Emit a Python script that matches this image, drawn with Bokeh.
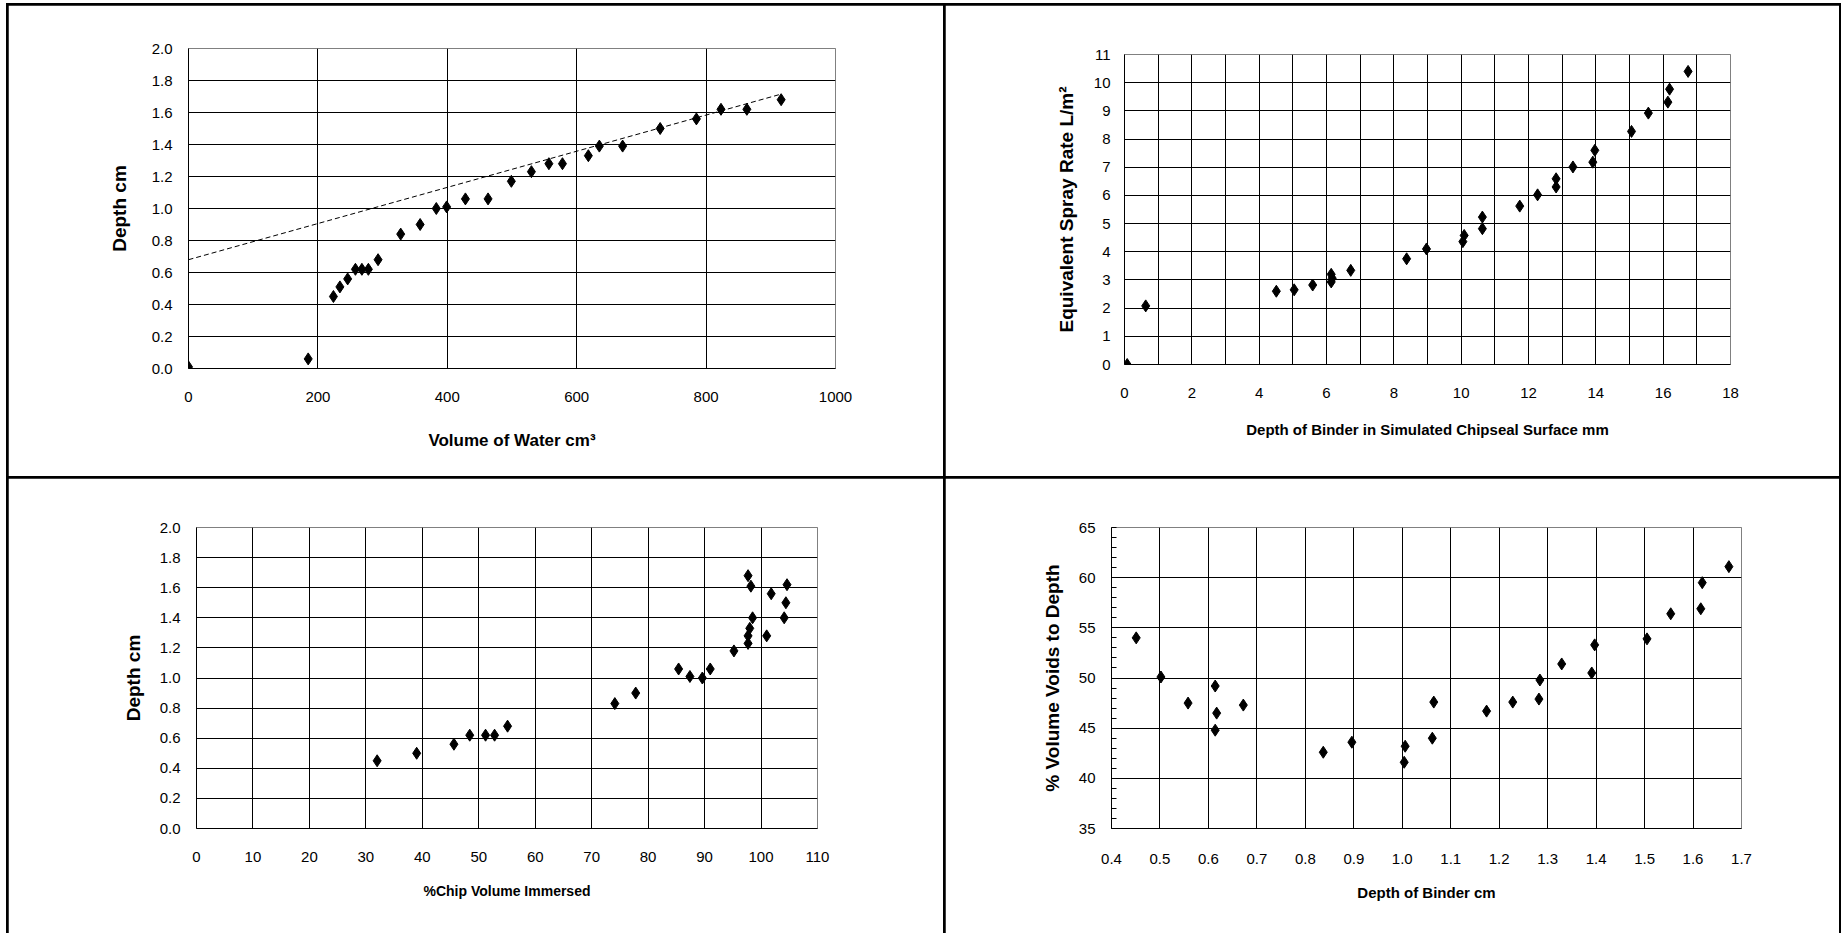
from bokeh.plotting import figure
from bokeh.models import Range1d, FixedTicker, NumeralTickFormatter, Row, Column, Spacer
from bokeh.embed import file_html
from bokeh.resources import INLINE

# ---------------- data ----------------
# Panel 1: depth vs volume of water
vol_water = [0, 185, 224, 234, 246, 258, 268, 278, 293, 328, 358, 383, 399, 428, 463,
             499, 530, 557, 578, 618, 635, 671, 729, 785, 823, 863, 916]
depth_vol = [0.01, 0.06, 0.45, 0.51, 0.56, 0.62, 0.62, 0.62, 0.68, 0.84, 0.90, 1.00, 1.01,
             1.06, 1.06, 1.17, 1.23, 1.28, 1.28, 1.33, 1.39, 1.39, 1.50, 1.56, 1.62, 1.62, 1.68]
trend_x = [0, 916]
trend_y = [0.68, 1.715]

# Panel 2: equivalent spray rate vs depth of binder (mm)
binder_mm = [0.08, 0.63, 4.51, 5.04, 5.59, 6.14, 6.14, 6.17, 6.72, 8.38, 8.97, 10.05, 10.09,
             10.63, 10.63, 11.74, 12.27, 12.82, 12.82, 13.32, 13.91, 13.97, 15.06, 15.56,
             16.14, 16.19, 16.74]
spray_rate = [0.0, 2.08, 2.60, 2.65, 2.82, 3.20, 2.93, 3.06, 3.34, 3.75, 4.10, 4.36, 4.58,
              4.82, 5.23, 5.62, 6.02, 6.30, 6.59, 7.01, 7.18, 7.60, 8.27, 8.92, 9.31, 9.77, 10.40]

# Panel 3: depth vs % chip volume immersed
chip_pct = [32.0, 39.0, 45.6, 48.4, 51.2, 52.8, 55.1, 74.1, 77.8, 85.4, 87.4, 89.6, 91.0,
            95.2, 97.7, 97.7, 98.0, 98.5, 101.0, 104.1, 104.4, 101.8, 104.6, 98.2, 97.7]
depth_chip = [0.45, 0.50, 0.56, 0.62, 0.62, 0.62, 0.68, 0.83, 0.90, 1.06, 1.01, 1.00, 1.06,
              1.18, 1.23, 1.28, 1.33, 1.40, 1.28, 1.40, 1.50, 1.56, 1.62, 1.61, 1.68]

# Panel 4: % volume voids vs depth of binder (cm)
binder_cm = [0.451, 0.502, 0.558, 0.614, 0.617, 0.614, 0.672, 0.837, 0.896, 1.004, 1.006,
             1.062, 1.065, 1.174, 1.228, 1.282, 1.284, 1.329, 1.391, 1.397, 1.505, 1.554,
             1.616, 1.619, 1.674]
voids_pct = [54.0, 50.1, 47.5, 49.2, 46.5, 44.8, 47.3, 42.6, 43.6, 41.6, 43.2, 44.0, 47.6,
             46.7, 47.6, 47.9, 49.8, 51.4, 50.5, 53.3, 53.9, 56.4, 56.9, 59.5, 61.1]

# tick values
p1_xticks = [0, 200, 400, 600, 800, 1000]
p1_yticks = [0.0, 0.2, 0.4, 0.6, 0.8, 1.0, 1.2, 1.4, 1.6, 1.8, 2.0]
p2_xticks = [0, 2, 4, 6, 8, 10, 12, 14, 16, 18]
p2_xgrid = [1, 2, 3, 4, 5, 6, 7, 8, 9, 10, 11, 12, 13, 14, 15, 16, 17]
p2_yticks = [0, 1, 2, 3, 4, 5, 6, 7, 8, 9, 10, 11]
p3_xticks = [0, 10, 20, 30, 40, 50, 60, 70, 80, 90, 100, 110]
p3_yticks = p1_yticks
p4_xticks = [0.4, 0.5, 0.6, 0.7, 0.8, 0.9, 1.0, 1.1, 1.2, 1.3, 1.4, 1.5, 1.6, 1.7]
p4_yticks = [35, 40, 45, 50, 55, 60, 65]
p4_yminor = list(range(35, 66))

FONT = "Liberation Sans"


def make_fig(w, h, left, right, top, bottom, xr, yr):
    p = figure(width=w, height=h, x_range=Range1d(*xr), y_range=Range1d(*yr),
               output_backend="svg", toolbar_location=None,
               min_border_left=left, min_border_right=right,
               min_border_top=top, min_border_bottom=bottom)
    p.background_fill_color = "white"
    p.border_fill_color = "white"
    p.outline_line_color = "#808080"
    p.outline_line_width = 1
    for ax in (p.xaxis[0], p.yaxis[0]):
        ax.axis_line_color = "black"
        ax.axis_line_width = 1
        ax.major_tick_in = 0
        ax.major_tick_out = 0
        ax.minor_tick_in = 0
        ax.minor_tick_out = 0
        ax.major_label_text_font = FONT
        ax.major_label_text_font_size = "15px"
        ax.major_label_text_color = "black"
        ax.axis_label_text_font = FONT
        ax.axis_label_text_font_style = "bold"
        ax.axis_label_text_color = "black"
    p.xaxis[0].major_label_standoff = 23
    p.yaxis[0].axis_label_text_font_size = "19px"
    p.xgrid[0].grid_line_color = "black"
    p.ygrid[0].grid_line_color = "black"
    p.xgrid[0].grid_line_width = 1
    p.ygrid[0].grid_line_width = 1
    return p


# ---- Panel 1 ----
p1 = make_fig(935, 471, 180, 108, 43, 108, (0, 1000), (0, 2.0))
p1.xaxis[0].ticker = FixedTicker(ticks=p1_xticks)
p1.yaxis[0].ticker = FixedTicker(ticks=p1_yticks)
p1.yaxis[0].formatter = NumeralTickFormatter(format="0.0")
p1.xgrid[0].ticker = FixedTicker(ticks=p1_xticks[1:-1])
p1.ygrid[0].ticker = FixedTicker(ticks=p1_yticks[1:-1])
p1.xaxis[0].axis_label = "Volume of Water cm\u00b3"
p1.xaxis[0].axis_label_text_font_size = "17px"
p1.xaxis[0].axis_label_standoff = 26
p1.yaxis[0].axis_label = "Depth cm"
p1.yaxis[0].major_label_standoff = 16
p1.yaxis[0].axis_label_standoff = 19
p1.line(trend_x, trend_y, line_color="black", line_width=1, line_dash="5 3")
p1.scatter(vol_water, depth_vol, marker="diamond", size=12, color="black")

# ---- Panel 2 ----
p2 = make_fig(894, 471, 179, 109, 49, 112, (0, 18), (0, 11))
p2.xaxis[0].ticker = FixedTicker(ticks=p2_xticks)
p2.yaxis[0].ticker = FixedTicker(ticks=p2_yticks)
p2.xgrid[0].ticker = FixedTicker(ticks=p2_xgrid)
p2.ygrid[0].ticker = FixedTicker(ticks=p2_yticks[1:-1])
p2.xaxis[0].axis_label = "Depth of Binder in Simulated Chipseal Surface mm"
p2.xaxis[0].axis_label_text_font_size = "15px"
p2.xaxis[0].axis_label_standoff = 20
p2.yaxis[0].axis_label = "Equivalent Spray Rate L/m\u00b2"
p2.yaxis[0].major_label_standoff = 14
p2.yaxis[0].axis_label_standoff = 14
p2.scatter(binder_mm, spray_rate, marker="diamond", size=12, color="black")

# ---- Panel 3 ----
p3 = make_fig(935, 455, 188, 126, 49, 105, (0, 110), (0, 2.0))
p3.xaxis[0].ticker = FixedTicker(ticks=p3_xticks)
p3.yaxis[0].ticker = FixedTicker(ticks=p3_yticks)
p3.yaxis[0].formatter = NumeralTickFormatter(format="0.0")
p3.xgrid[0].ticker = FixedTicker(ticks=p3_xticks[1:-1])
p3.ygrid[0].ticker = FixedTicker(ticks=p3_yticks[1:-1])
p3.xaxis[0].axis_label = "%Chip Volume Immersed"
p3.xaxis[0].axis_label_text_font_size = "14px"
p3.xaxis[0].axis_label_standoff = 18
p3.yaxis[0].axis_label = "Depth cm"
p3.yaxis[0].major_label_standoff = 16
p3.yaxis[0].axis_label_standoff = 13
p3.scatter(chip_pct, depth_chip, marker="diamond", size=12, color="black")

# ---- Panel 4 ----
p4 = make_fig(894, 455, 166, 98, 49, 105, (0.4, 1.7), (35, 65))
p4.xaxis[0].ticker = FixedTicker(ticks=p4_xticks)
p4.xaxis[0].formatter = NumeralTickFormatter(format="0.0")
p4.xaxis[0].major_label_standoff = 25
p4.yaxis[0].ticker = FixedTicker(ticks=p4_yticks, minor_ticks=p4_yminor)
p4.yaxis[0].minor_tick_in = 5
p4.yaxis[0].minor_tick_line_color = "black"
p4.xgrid[0].ticker = FixedTicker(ticks=p4_xticks[1:-1])
p4.ygrid[0].ticker = FixedTicker(ticks=p4_yticks[1:-1])
p4.xaxis[0].axis_label = "Depth of Binder cm"
p4.xaxis[0].axis_label_text_font_size = "15px"
p4.xaxis[0].axis_label_standoff = 17
p4.yaxis[0].axis_label = "% Volume Voids to Depth"
p4.yaxis[0].major_label_standoff = 16
p4.yaxis[0].axis_label_standoff = 13
p4.scatter(binder_cm, voids_pct, marker="diamond", size=12, color="black")

# each panel wrapped on its own so that frames are not aligned across panels
c1, c2, c3, c4 = (Column(children=[p]) for p in (p1, p2, p3, p4))
top_row = Row(children=[c1, c2], spacing=2)
bottom_row = Row(children=[c3, c4], spacing=2)
panels = Column(children=[top_row, bottom_row], spacing=2)
middle = Row(children=[Spacer(width=2, height=928), panels, Spacer(width=2, height=928)])
framed = Column(children=[Spacer(width=1835, height=2), middle],
                styles={"background-color": "black"})
root = Column(children=[Spacer(width=1841, height=3),
                        Row(children=[Spacer(width=6, height=930), framed])])

open("out.html", "w").write(file_html(root, INLINE))
